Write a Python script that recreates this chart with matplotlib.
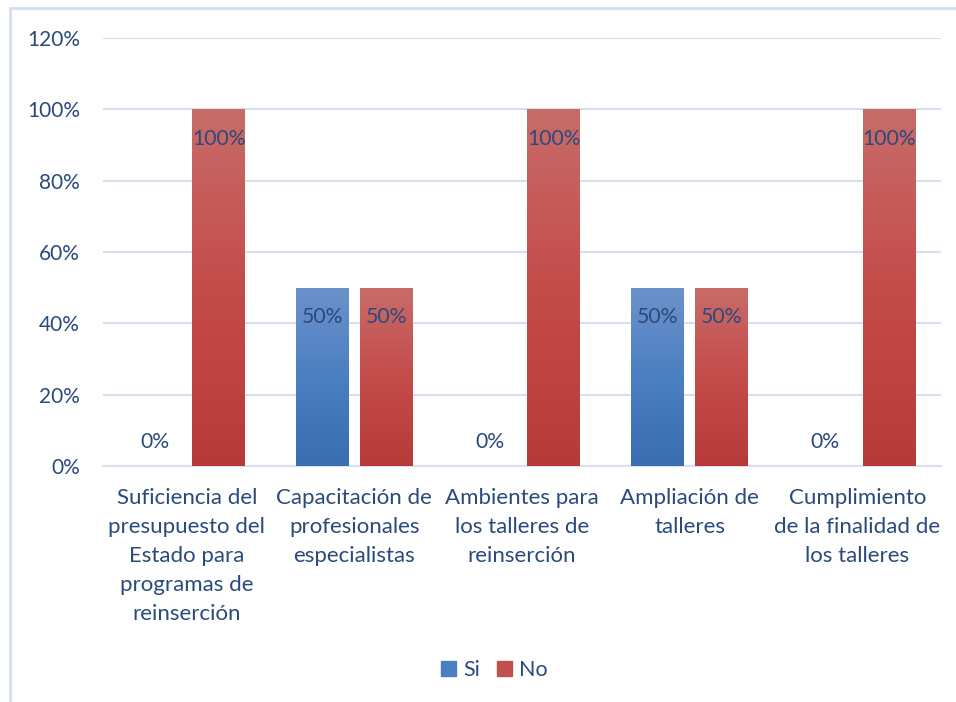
import numpy as np
import matplotlib
matplotlib.use("Agg")
import matplotlib.pyplot as plt
from matplotlib.colors import LinearSegmentedColormap
from matplotlib.patches import Rectangle

categories = [
    "Suficiencia del\npresupuesto del\nEstado para\nprogramas de\nreinserción",
    "Capacitación de\nprofesionales\nespecialistas",
    "Ambientes para\nlos talleres de\nreinserción",
    "Ampliación de\ntalleres",
    "Cumplimiento\nde la finalidad de\nlos talleres",
]
si = [0.0, 0.5, 0.0, 0.5, 0.0]
no = [1.0, 0.5, 1.0, 0.5, 1.0]
yticks = [0, 0.2, 0.4, 0.6, 0.8, 1.0, 1.2]

text_col = "#2A4A7C"
grid_col = "#D6E0F0"
plt.rcParams["font.family"] = ["Lato", "DejaVu Sans"]

fig = plt.figure(figsize=(9.56, 7.02), dpi=100)
ax = fig.add_axes([0.1077, 0.3362, 0.8766, 0.6097])

# chart border (cut by the image edge at right and bottom)
fig.patches.append(Rectangle((10 / 956, -0.1), 1.2, 1 - 8 / 702 + 0.1,
                             transform=fig.transFigure, fill=False,
                             edgecolor="#D3DEEF", linewidth=2))

x = np.arange(len(categories))
w = 0.316
off = 0.19

grads = {
    "si": LinearSegmentedColormap.from_list("si", ["#3A6CB0", "#4A7FC1", "#6D92CB"]),
    "no": LinearSegmentedColormap.from_list("no", ["#B73A39", "#C44C4A", "#C86C69"]),
}
grad = np.linspace(0, 1, 256).reshape(-1, 1)

def gradient_bars(xs, vals, cmap, label, solid):
    bars = ax.bar(xs, vals, w, color=solid, label=label, zorder=2)
    for b in bars:
        if b.get_height() <= 0:
            continue
        im = ax.imshow(grad, cmap=cmap, aspect="auto", origin="lower",
                       extent=(b.get_x(), b.get_x() + b.get_width(), 0, b.get_height()),
                       zorder=3)
        im.set_clip_path(b)
    return bars

gradient_bars(x - off, si, grads["si"], "Si", "#4A7FC1")
gradient_bars(x + off, no, grads["no"], "No", "#C0504D")

for xs, vals in [(x - off, si), (x + off, no)]:
    for xi, v in zip(xs, vals):
        y = v - 0.083 if v > 0 else 0.068
        ax.text(xi, y, f"{v:.0%}", ha="center", va="center",
                color=text_col, fontsize=15.2, zorder=5)

ax.set_xlim(-0.5, len(categories) - 0.5)
ax.set_ylim(0, 1.2)
ax.set_yticks(yticks)
ax.set_yticklabels([f"{t:.0%}" for t in yticks])
ax.set_xticks(x)
ax.set_xticklabels(categories, linespacing=1.56, fontsize=16)
ax.tick_params(length=0, labelcolor=text_col)
ax.tick_params(axis="y", pad=16.5, labelsize=15)
ax.tick_params(axis="x", pad=16)
ax.yaxis.grid(True, color=grid_col, linewidth=1.5, zorder=0)
ax.set_axisbelow(True)
for s in ["top", "right", "left"]:
    ax.spines[s].set_visible(False)
ax.spines["bottom"].set_color(grid_col)
ax.spines["bottom"].set_linewidth(1.5)

leg = fig.legend(loc="center", bbox_to_anchor=(0.517, 1 - 670 / 702), ncol=2,
                 frameon=False, fontsize=15.5, handlelength=0.7, handleheight=0.7,
                 handletextpad=0.3, columnspacing=0.8)
for t in leg.get_texts():
    t.set_color(text_col)
leg.legend_handles[0].set_color("#4A7FC1")
leg.legend_handles[1].set_color("#C0504D")

fig.savefig("out.png", dpi=100)
